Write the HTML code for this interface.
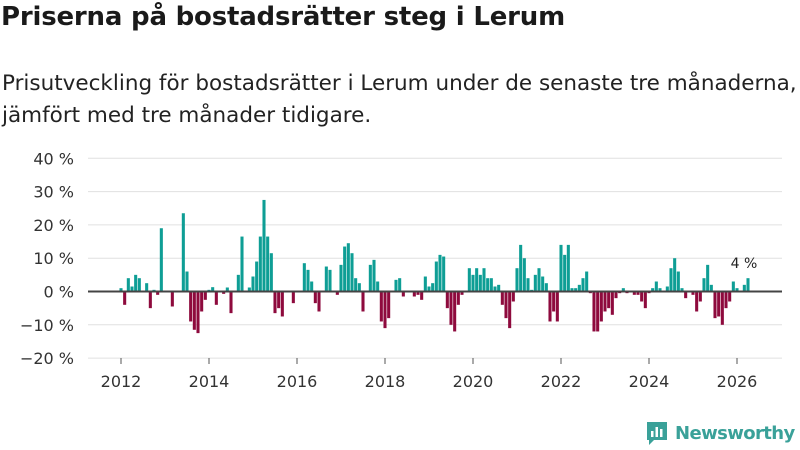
<!DOCTYPE html>
<html><head><meta charset="utf-8"><style>
body{margin:0;width:800px;height:450px;background:#fff;font-family:"Liberation Sans","DejaVu Sans",sans-serif;overflow:hidden;position:relative}
h1{position:absolute;left:1px;top:2px;margin:0;font-size:26px;font-weight:bold;color:#1a1a1a;font-family:"DejaVu Sans",sans-serif;letter-spacing:-0.2px}
.sub{position:absolute;left:2px;top:68px;font-size:21.5px;line-height:32px;color:#222;font-family:"DejaVu Sans",sans-serif;white-space:nowrap}
svg{position:absolute;left:0;top:0}
</style></head><body>
<h1>Priserna på bostadsrätter steg i Lerum</h1>
<div class="sub">Prisutveckling för bostadsrätter i Lerum under de senaste tre månaderna,<br>jämfört med tre månader tidigare.</div>
<svg id="chart" width="800" height="450"></svg>
<script>
const values2012=[1,-4,4,1.5,5,4,0,2.5,-5,0.5,-1,19];
const values2013=[0,0,-4.5,0,0,23.5,6,-9,-11.5,-12.5,-6,-2.5];
const values2014=[0.5,1.3,-4,0,-0.7,1.2,-6.5,0,5,16.5,0,1.2];
const values2015=[4.5,9,16.5,27.5,16.5,11.5,-6.5,-5,-7.5,0,0,-3.5];
const values2016=[0,0,8.5,6.5,3,-3.5,-6,0,7.5,6.5,0,-1];
const values2017=[8,13.5,14.5,11.5,4,2.5,-6,0,8,9.5,3,-9];
const values2018=[-11,-8,0.2,3.5,4,-1.5,0,0,-1.5,-1,-2.5,4.5];
const values2019=[1.5,2.5,9,11,10.5,-5,-10,-12,-4,-1,0,7];
const values2020=[5,7,5,7,4,4,1.5,2,-4,-8,-11,-3];
const values2021=[7,14,10,4,0.5,5,7,4.5,2.5,-9,-6,-9];
const values2022=[14,11,14,1,1,2,4,6,-0.5,-12,-12,-9];
const values2023=[-6,-5,-7,-2,-0.5,1,-0.5,0,-1,-1,-3,-5];
const values2024=[-0.5,1,3,1,0,1.5,7,10,6,1,-2,0];
const values2025=[-1,-6,-3,4,8,2,-8,-7.5,-10,-5,-3,3];
const values2026=[1,0,2,4];
const yTicks=[40,30,20,10,0,-10,-20];
const xTicks=[2012,2014,2016,2018,2020,2022,2024,2026];
const startYear=2012;
const values=[].concat(values2012,values2013,values2014,values2015,values2016,values2017,values2018,values2019,values2020,values2021,values2022,values2023,values2024,values2025,values2026);

const svg=document.getElementById('chart');
const NS='http://www.w3.org/2000/svg';
const y=v=>291.5-v*3.33;
const x=t=>121+(t-startYear)*44;
function mk(tag,attrs){const e=document.createElementNS(NS,tag);for(const k in attrs)e.setAttribute(k,attrs[k]);svg.appendChild(e);return e;}
yTicks.forEach(t=>{
  if(t!==0){const g=mk('line',{x1:88,x2:782,y1:y(t),y2:y(t),stroke:'#e0e0e0','stroke-width':1});
  
  }
  const l=mk('text',{x:74,y:y(t)+6,'text-anchor':'end','font-size':16,fill:'#333','font-family':'DejaVu Sans, sans-serif'});
  l.textContent=(t<0?'−'+(-t):t)+' %';
  
  
});
xTicks.forEach(t=>{
  const tk=mk('line',{x1:x(t),x2:x(t),y1:358,y2:364,stroke:'#555'});
  
  
  const l=mk('text',{x:x(t),y:387,'text-anchor':'middle','font-size':16,fill:'#333','font-family':'DejaVu Sans, sans-serif'});
  l.textContent=t;
  
  
});
const bw=44/12;
values.forEach((v,i)=>{
  const cx=x(startYear+i/12);
  const r=mk('rect',{x:cx-bw/2+0.3,width:bw-0.6,y:Math.min(y(v),y(0)),height:Math.abs(y(v)-y(0)),fill:v>=0?'#0e9e95':'#8e0a3d'});
  
  
});
const z=mk('line',{x1:88,x2:782,y1:y(0),y2:y(0),stroke:'#444','stroke-width':2});


const last=values[values.length-1];
const lab=mk('text',{x:x(startYear+(values.length-1)/12)-4,y:y(last)-10,'text-anchor':'middle','font-size':14,fill:'#222','font-family':'DejaVu Sans, sans-serif'});
lab.textContent=Math.round(last)+' %';


</script>
<div style="position:absolute;left:645px;top:420px;display:flex;align-items:center">
<svg width="24" height="26" style="position:static" viewBox="0 0 24 26"><path d="M2 2h20v18H9l-5 5v-5H2z" fill="#3aa199"/><rect x="6" y="11" width="2.5" height="6" fill="#fff"/><rect x="10.5" y="7" width="2.5" height="10" fill="#fff"/><rect x="15" y="9" width="2.5" height="8" fill="#fff"/></svg>
<span style="color:#3aa199;font-size:18px;font-weight:bold;margin-left:6px;font-family:'DejaVu Sans',sans-serif;letter-spacing:-0.6px">Newsworthy</span>
</div>
</body></html>
